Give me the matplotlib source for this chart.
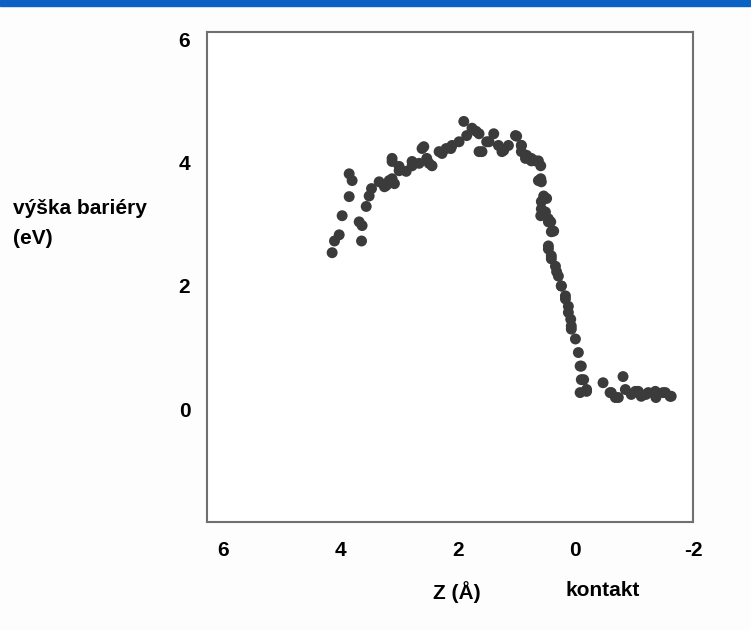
import matplotlib.pyplot as plt
from matplotlib.patches import Rectangle

plt.rcParams['font.family'] = ['Liberation Sans', 'DejaVu Sans']

# tick values
x_ticks = [6, 4, 2, 0, -2]
y_ticks = [0, 2, 4, 6]

# barrier height (eV) vs distance z (Angstrom)
z = [4.14, 4.10, 4.02, 3.97, 3.85, 3.85, 3.80, 3.64, 3.68, 3.63, 3.56, 3.51, 3.47,
     3.34, 3.25, 3.17, 3.08, 3.12, 3.00, 2.88, 2.78, 2.66, 2.58, 2.53, 2.44, 2.32,
     2.20, 2.10, 1.98, 1.90, 1.85, 1.76, 1.64, 1.59, 1.51, 1.39, 1.31, 1.22, 1.14,
     1.00, 0.92, 0.83, 0.75, 0.63, 0.59, 0.54, 0.51, 0.42, 0.46, 0.41,
     1.02, 0.92, 0.85, 0.68, 0.59, 0.63, 0.58, 0.59, 0.46, 0.41, 0.46, 0.41, 0.34,
     0.29, 0.24, 0.17, 0.12, 0.08, 0.07, 0.00, -0.05, -0.08, -0.10, -0.08, -0.19,
     -0.47, -0.61, -0.73, -0.81, -0.85, -1.02, -1.12, -1.24, -1.37, -1.53, -1.63,
     0.58, 0.46, 0.37, 0.32, 0.24, 0.17, 0.12, 0.07, -0.10, -0.14, -0.19,
     -0.59, -0.68, -0.95, -1.07, -1.20, -1.36, -1.49, -1.61,
     3.12, 3.00, 2.78, 2.61, 2.49, 2.27, 2.12, 1.69, 1.64, 1.47, 1.25, 0.92, 0.75,
     0.58, 0.49, 3.22, 3.12]
height = [2.54, 2.73, 2.83, 3.14, 3.45, 3.82, 3.71, 2.73, 3.04, 2.98, 3.29, 3.46, 3.58,
          3.69, 3.61, 3.71, 3.66, 4.07, 3.94, 3.86, 4.02, 3.99, 4.26, 4.07, 3.95, 4.18,
          4.23, 4.28, 4.34, 4.67, 4.44, 4.56, 4.47, 4.18, 4.34, 4.47, 4.28, 4.20, 4.28,
          4.43, 4.28, 4.12, 4.03, 4.03, 3.74, 3.46, 3.20, 3.04, 2.60, 2.44,
          4.44, 4.28, 4.07, 4.03, 3.95, 3.71, 3.37, 3.14, 3.09, 2.88, 2.65, 2.49, 2.32,
          2.16, 2.00, 1.84, 1.67, 1.46, 1.30, 1.14, 0.92, 0.70, 0.48, 0.27, 0.32,
          0.43, 0.27, 0.19, 0.53, 0.32, 0.29, 0.21, 0.27, 0.19, 0.27, 0.21,
          3.25, 3.04, 2.89, 2.23, 2.00, 1.79, 1.57, 1.35, 0.70, 0.48, 0.29,
          0.27, 0.19, 0.24, 0.29, 0.24, 0.29, 0.27, 0.21,
          4.02, 3.87, 3.95, 4.23, 3.99, 4.15, 4.23, 4.51, 4.18, 4.34, 4.18, 4.18, 4.07,
          3.69, 3.42, 3.63, 3.74]

fig = plt.figure(figsize=(7.51, 6.31), dpi=100, facecolor='#fdfdfd')
fig.patches.append(Rectangle((0, 1 - 6 / 631), 1, 6 / 631, transform=fig.transFigure,
                             color='#0a62c4', zorder=0))
ax = fig.add_axes([0.2756, 0.1727, 0.6471, 0.7765])
ax.set_facecolor('white')

ax.scatter(z, height, s=62, color='#3b3b3b', edgecolors='none', zorder=3)

ax.set_xlim(6.27, -1.97)
ax.set_ylim(-1.83, 6.12)
ax.set_xticks(x_ticks)
ax.set_xticklabels([str(v) for v in x_ticks])
ax.set_yticks(y_ticks)
ax.set_yticklabels([str(v) for v in y_ticks])
ax.tick_params(axis='x', length=0, pad=14, labelsize=15)
ax.tick_params(axis='y', length=0, pad=12, labelsize=15)
for lab in ax.get_xticklabels() + ax.get_yticklabels():
    lab.set_fontweight('bold')
for sp in ax.spines.values():
    sp.set_color('#707070')
    sp.set_linewidth(1.5)

fig.text(13 / 751, 1 - 209 / 631, 'výška bariéry', fontsize=15, fontweight='bold',
         ha='left', va='center')
fig.text(13 / 751, 1 - 239 / 631, '(eV)', fontsize=15, fontweight='bold',
         ha='left', va='center')
fig.text(457 / 751, 1 - 592 / 631, 'Z (Å)', fontsize=15, fontweight='bold',
         ha='center', va='center')
fig.text(603 / 751, 1 - 590 / 631, 'kontakt', fontsize=15, fontweight='bold',
         ha='center', va='center')

fig.savefig('out.png', dpi=100, facecolor=fig.get_facecolor())
